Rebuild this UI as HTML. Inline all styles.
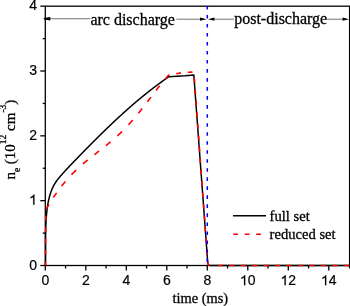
<!DOCTYPE html>
<html><head><meta charset="utf-8"><style>
html,body{margin:0;padding:0;background:#fff;width:350px;height:306px;overflow:hidden}
svg{display:block;will-change:transform}
</style></head><body>
<svg width="350" height="306" viewBox="0 0 350 306">

<!-- frame -->
<g stroke="#000" stroke-width="1.3" fill="none">
<rect x="45.30" y="6.2" width="304.30" height="259.30"/>
<line x1="45.30" y1="265.50" x2="45.30" y2="270.50"/><line x1="65.55" y1="265.50" x2="65.55" y2="268.50"/><line x1="85.80" y1="265.50" x2="85.80" y2="270.50"/><line x1="106.05" y1="265.50" x2="106.05" y2="268.50"/><line x1="126.30" y1="265.50" x2="126.30" y2="270.50"/><line x1="146.55" y1="265.50" x2="146.55" y2="268.50"/><line x1="166.80" y1="265.50" x2="166.80" y2="270.50"/><line x1="187.05" y1="265.50" x2="187.05" y2="268.50"/><line x1="207.30" y1="265.50" x2="207.30" y2="270.50"/><line x1="227.55" y1="265.50" x2="227.55" y2="268.50"/><line x1="247.80" y1="265.50" x2="247.80" y2="270.50"/><line x1="268.05" y1="265.50" x2="268.05" y2="268.50"/><line x1="288.30" y1="265.50" x2="288.30" y2="270.50"/><line x1="308.55" y1="265.50" x2="308.55" y2="268.50"/><line x1="328.80" y1="265.50" x2="328.80" y2="270.50"/><line x1="349.60" y1="265.50" x2="349.60" y2="268.50"/><line x1="40.30" y1="265.50" x2="45.30" y2="265.50"/><line x1="42.70" y1="233.09" x2="45.30" y2="233.09"/><line x1="40.30" y1="200.67" x2="45.30" y2="200.67"/><line x1="42.70" y1="168.25" x2="45.30" y2="168.25"/><line x1="40.30" y1="135.84" x2="45.30" y2="135.84"/><line x1="42.70" y1="103.43" x2="45.30" y2="103.43"/><line x1="40.30" y1="71.01" x2="45.30" y2="71.01"/><line x1="42.70" y1="38.59" x2="45.30" y2="38.59"/><line x1="40.30" y1="6.18" x2="45.30" y2="6.18"/>
</g>
<!-- curves -->
<path d="M45.50,265.50 L45.49,264.53 L45.50,263.97 L45.52,263.42 L45.53,262.86 L45.54,262.29 L45.55,261.73 L45.56,261.15 L45.56,260.58 L45.57,260.00 L45.58,259.42 L45.58,258.84 L45.59,258.25 L45.59,257.66 L45.59,257.07 L45.60,256.48 L45.60,255.88 L45.60,255.28 L45.60,254.68 L45.60,254.07 L45.60,253.46 L45.60,252.85 L45.60,252.24 L45.60,251.63 L45.60,251.01 L45.60,250.39 L45.60,249.77 L45.60,249.15 L45.59,248.53 L45.59,247.90 L45.59,247.27 L45.59,246.64 L45.59,246.01 L45.59,245.38 L45.59,244.74 L45.59,244.11 L45.58,243.47 L45.58,242.83 L45.58,242.20 L45.59,241.56 L45.59,240.91 L45.59,240.27 L45.59,239.63 L45.59,238.99 L45.60,238.34 L45.60,237.70 L45.60,237.05 L45.61,236.40 L45.61,235.76 L45.62,235.11 L45.63,234.46 L45.64,233.81 L45.65,233.17 L45.66,232.52 L45.67,231.87 L45.68,231.22 L45.69,230.57 L45.71,229.92 L45.73,229.28 L45.74,228.63 L45.76,227.98 L45.78,227.34 L45.80,226.69 L45.82,226.04 L45.85,225.40 L45.87,224.75 L45.90,224.11 L45.93,223.47 L45.96,222.83 L45.99,222.19 L46.02,221.55 L46.06,220.91 L46.10,220.27 L46.13,219.63 L46.17,219.00 L46.22,218.37 L46.26,217.73 L46.31,217.10 L46.36,216.48 L46.41,215.85 L46.46,215.22 L46.51,214.60 L46.57,213.98 L46.63,213.36 L46.69,212.74 L46.75,212.13 L46.82,211.51 L46.89,210.90 L46.96,210.29 L47.03,209.69 L47.11,209.08 L47.19,208.48 L47.27,207.88 L47.35,207.29 L47.44,206.69 L47.52,206.10 L47.62,205.51 L47.71,204.93 L47.81,204.35 L47.91,203.77 L48.01,203.19 L48.12,202.62 L48.23,202.05 L48.34,201.49 L48.45,200.92 L48.57,200.36 L48.69,199.81 L48.82,199.26 L48.95,198.71 L49.08,198.17 L49.21,197.63 L49.35,197.09 L49.49,196.56 L49.64,196.03 L49.79,195.50 L49.94,194.98 L50.09,194.47 L50.25,193.96 L50.42,193.45 L50.58,192.94 L50.75,192.44 L50.93,191.95 L51.11,191.46 L51.29,190.97 L51.48,190.48 L51.67,190.00 L51.86,189.53 L52.06,189.05 L52.27,188.58 L52.47,188.12 L52.69,187.66 L52.90,187.20 L53.13,186.74 L53.35,186.29 L53.58,185.85 L53.82,185.40 L54.06,184.96 L54.31,184.52 L54.56,184.09 L54.81,183.66 L55.07,183.23 L55.34,182.81 L55.61,182.38 L55.88,181.97 L56.17,181.55 L56.45,181.14 L56.74,180.73 L57.04,180.32 L57.34,179.92 L57.65,179.52 L57.96,179.12 L58.28,178.72 L58.60,178.32 L58.93,177.92 L59.26,177.53 L59.59,177.13 L59.93,176.73 L60.27,176.34 L60.61,175.94 L60.96,175.54 L61.31,175.14 L61.67,174.74 L62.02,174.33 L62.39,173.93 L62.75,173.52 L63.12,173.11 L63.49,172.70 L63.86,172.29 L64.23,171.88 L64.61,171.46 L64.99,171.05 L65.37,170.63 L65.76,170.21 L66.15,169.79 L66.54,169.37 L66.93,168.95 L67.32,168.53 L67.72,168.10 L68.12,167.68 L68.52,167.25 L68.92,166.82 L69.32,166.39 L69.73,165.97 L70.14,165.54 L70.54,165.11 L70.96,164.67 L71.37,164.24 L71.78,163.81 L72.20,163.38 L72.61,162.94 L73.03,162.51 L73.45,162.07 L73.87,161.64 L74.29,161.20 L74.71,160.76 L75.14,160.33 L75.56,159.89 L75.98,159.45 L76.41,159.01 L76.84,158.57 L77.26,158.14 L77.69,157.70 L78.12,157.26 L78.54,156.82 L78.97,156.38 L79.40,155.94 L79.83,155.50 L80.26,155.06 L80.69,154.63 L81.12,154.19 L81.55,153.75 L81.98,153.31 L82.41,152.87 L82.83,152.44 L83.26,152.00 L83.69,151.56 L84.12,151.12 L84.55,150.68 L84.98,150.25 L85.41,149.81 L85.84,149.37 L86.27,148.94 L86.70,148.50 L87.13,148.06 L87.56,147.63 L87.99,147.19 L88.42,146.76 L88.86,146.32 L89.29,145.89 L89.72,145.45 L90.15,145.02 L90.58,144.58 L91.01,144.15 L91.44,143.71 L91.88,143.28 L92.31,142.84 L92.74,142.41 L93.17,141.98 L93.60,141.54 L94.04,141.11 L94.47,140.68 L94.90,140.24 L95.34,139.81 L95.77,139.38 L96.20,138.95 L96.64,138.51 L97.07,138.08 L97.51,137.65 L97.94,137.22 L98.38,136.79 L98.81,136.36 L99.25,135.93 L99.68,135.50 L100.12,135.07 L100.55,134.64 L100.99,134.21 L101.43,133.78 L101.86,133.35 L102.30,132.92 L102.74,132.50 L103.18,132.07 L103.61,131.64 L104.05,131.21 L104.49,130.79 L104.93,130.36 L105.37,129.93 L105.81,129.51 L106.25,129.08 L106.69,128.65 L107.13,128.23 L107.57,127.80 L108.01,127.38 L108.45,126.96 L108.89,126.53 L109.34,126.11 L109.78,125.68 L110.22,125.26 L110.66,124.84 L111.11,124.42 L111.55,123.99 L112.00,123.57 L112.44,123.15 L112.89,122.73 L113.33,122.31 L113.78,121.89 L114.22,121.47 L114.67,121.05 L115.12,120.63 L115.56,120.21 L116.01,119.79 L116.46,119.38 L116.91,118.96 L117.36,118.54 L117.81,118.12 L118.26,117.71 L118.71,117.29 L119.16,116.88 L119.61,116.46 L120.06,116.04 L120.51,115.63 L120.97,115.22 L121.42,114.80 L121.87,114.39 L122.33,113.98 L122.78,113.56 L123.24,113.15 L123.69,112.74 L124.15,112.33 L124.61,111.92 L125.06,111.51 L125.52,111.10 L125.98,110.69 L126.44,110.28 L126.90,109.87 L127.36,109.46 L127.82,109.05 L128.28,108.65 L128.74,108.24 L129.20,107.83 L129.66,107.43 L130.13,107.02 L130.59,106.62 L131.05,106.21 L131.52,105.81 L131.98,105.40 L132.45,105.00 L132.91,104.60 L133.38,104.19 L133.85,103.79 L134.32,103.39 L134.79,102.99 L135.25,102.59 L135.72,102.19 L136.20,101.79 L136.67,101.39 L137.14,100.99 L137.61,100.60 L138.08,100.20 L138.56,99.80 L139.03,99.41 L139.51,99.01 L139.98,98.61 L140.46,98.22 L140.94,97.83 L141.41,97.43 L141.89,97.04 L142.37,96.65 L142.85,96.25 L143.33,95.86 L143.81,95.47 L144.29,95.08 L144.77,94.69 L145.26,94.30 L145.74,93.91 L146.23,93.53 L146.71,93.14 L147.20,92.75 L147.68,92.36 L148.17,91.98 L148.66,91.59 L149.15,91.21 L149.64,90.82 L150.13,90.44 L150.62,90.06 L151.11,89.68 L151.60,89.29 L152.10,88.91 L152.59,88.53 L153.08,88.15 L153.58,87.77 L154.08,87.39 L154.57,87.02 L155.07,86.64 L155.57,86.26 L156.07,85.88 L156.57,85.51 L157.07,85.13 L157.57,84.76 L158.08,84.39 L158.58,84.01 L159.08,83.64 L159.59,83.27 L160.10,82.90 L160.60,82.53 L161.11,82.16 L161.62,81.79 L162.13,81.42 L162.64,81.05 L163.15,80.68 L163.66,80.32 L164.17,79.95 L164.69,79.58 L165.20,79.22 L165.72,78.86 L166.24,78.49 L166.75,78.13 L167.27,77.77 L167.79,77.41 L168.31,77.05 L168.83,76.69 L185.00,75.80 L193.80,74.90 L207.80,263.30 Q208.3,265.5 210,265.5 L349.3,265.5" fill="none" stroke="#000" stroke-width="1.5" stroke-linejoin="round"/>
<path d="M45.50,265.50 L45.50,264.79 L45.51,263.95 L45.51,262.99 L45.51,261.91 L45.51,261.62 M45.53,254.86 L45.54,253.88 L45.54,252.38 L45.55,250.88 L45.55,250.16 M45.58,243.41 L45.59,242.36 L45.59,241.14 L45.60,240.00 L45.61,238.92 L45.61,238.71 M45.67,231.95 L45.67,231.83 L45.68,230.89 L45.69,229.97 L45.70,229.07 L45.72,228.19 L45.73,227.34 L45.73,227.25 M45.82,220.50 L45.83,220.12 L45.83,219.55 L45.84,219.00 L45.85,218.49 L45.85,217.99 L45.86,217.52 L45.87,217.07 L45.88,216.64 L45.88,216.22 L45.89,215.82 L45.89,215.80 M46.53,209.04 L46.54,208.99 L46.60,208.80 L46.66,208.61 L46.73,208.42 L46.80,208.24 L46.87,208.06 L46.95,207.89 L47.03,207.71 L47.12,207.54 L47.20,207.37 L47.29,207.21 L47.39,207.04 L47.48,206.87 L47.58,206.70 L47.68,206.53 L47.78,206.36 L47.88,206.19 L47.98,206.02 L48.09,205.85 L48.19,205.67 L48.30,205.49 L48.40,205.30 L48.51,205.11 L48.62,204.92 L48.73,204.72 L48.84,204.53 L48.95,204.34 M53.26,197.59 L53.42,197.37 L53.65,197.03 L53.90,196.67 L54.17,196.29 L54.45,195.89 L54.74,195.48 L55.03,195.05 L55.34,194.61 L55.65,194.16 L55.98,193.71 L56.30,193.25 L56.55,192.89 M61.59,186.13 L61.60,186.12 L61.90,185.74 L62.20,185.37 L62.50,184.99 L62.80,184.62 L63.10,184.25 L63.40,183.88 L63.70,183.51 L64.00,183.15 L64.30,182.79 L64.60,182.43 L64.90,182.07 L65.20,181.71 L65.44,181.43 M71.53,174.68 L71.80,174.39 L72.10,174.08 L72.40,173.77 L72.70,173.46 L73.00,173.16 L73.30,172.86 L73.60,172.55 L73.90,172.25 L74.20,171.96 L74.50,171.66 L74.80,171.37 L75.10,171.07 L75.40,170.78 L75.70,170.49 L76.00,170.20 L76.18,170.03 M82.93,163.92 L83.20,163.69 L83.50,163.43 L83.80,163.17 L84.10,162.92 L84.40,162.67 L84.70,162.41 L85.00,162.16 L85.30,161.91 L85.60,161.66 L85.90,161.42 L86.20,161.17 L86.50,160.92 L86.80,160.68 L87.10,160.43 L87.40,160.19 L87.63,160.00 M94.39,154.67 L94.60,154.50 L94.90,154.27 L95.20,154.03 L95.50,153.80 L95.80,153.57 L96.10,153.33 L96.40,153.10 L96.70,152.87 L97.00,152.64 L97.30,152.41 L97.60,152.18 L97.90,151.95 L98.20,151.72 L98.50,151.48 L98.80,151.25 L99.09,151.03 M105.84,145.74 L106.00,145.61 L106.30,145.37 L106.60,145.13 L106.90,144.89 L107.20,144.64 L107.50,144.40 L107.80,144.15 L108.10,143.91 L108.40,143.66 L108.70,143.41 L109.00,143.17 L109.30,142.92 L109.60,142.67 L109.90,142.42 L110.20,142.17 L110.50,141.92 L110.54,141.89 M117.30,135.97 L117.40,135.87 L117.70,135.60 L118.00,135.32 L118.30,135.04 L118.60,134.76 L118.90,134.48 L119.20,134.20 L119.50,133.91 L119.80,133.63 L120.10,133.34 L120.40,133.05 L120.70,132.77 L121.00,132.48 L121.30,132.18 L121.60,131.89 L121.90,131.60 L122.00,131.50 M128.52,124.76 L128.80,124.46 L129.10,124.13 L129.40,123.80 L129.70,123.47 L130.00,123.14 L130.30,122.81 L130.60,122.48 L130.90,122.14 L131.20,121.80 L131.50,121.47 L131.80,121.13 L132.10,120.79 L132.40,120.44 L132.70,120.10 L132.74,120.06 M138.42,113.30 L138.70,112.95 L139.00,112.58 L139.30,112.21 L139.60,111.84 L139.90,111.46 L140.20,111.09 L140.50,110.71 L140.80,110.33 L141.10,109.96 L141.40,109.58 L141.70,109.20 L142.00,108.82 L142.17,108.60 M147.38,101.85 L147.40,101.82 L147.70,101.43 L148.00,101.04 L148.30,100.64 L148.60,100.25 L148.90,99.85 L149.20,99.46 L149.50,99.06 L149.80,98.67 L150.10,98.27 L150.40,97.87 L150.70,97.48 L150.95,97.15 M156.06,90.39 L156.10,90.34 L156.40,89.95 L156.70,89.56 L157.00,89.17 L157.30,88.78 L157.60,88.39 L157.90,88.00 L158.20,87.61 L158.50,87.22 L158.80,86.83 L159.10,86.45 L159.40,86.06 L159.69,85.69 M165.29,78.94 L165.44,78.76 L165.74,78.42 L166.02,78.09 L166.29,77.77 L166.55,77.48 L166.79,77.20 L167.00,76.95 L167.20,76.72 L167.38,76.52 L167.53,76.34 L167.67,76.18 L167.80,76.04 L167.91,75.92 L168.00,75.82 L168.09,75.73 L168.16,75.65 L168.22,75.58 L168.27,75.53 L168.32,75.48 L168.36,75.45 L168.40,75.41 L168.43,75.39 L168.46,75.36 L168.48,75.34 L168.51,75.31 L168.54,75.28 L168.57,75.26 L168.60,75.22 L168.69,75.18 L168.80,75.15 L168.92,75.12 L169.05,75.09 L169.19,75.05 L169.34,75.02 L169.50,74.98 L169.57,74.96 M176.32,73.71 L176.40,73.70 L176.62,73.66 L176.84,73.62 L177.06,73.58 L177.28,73.54 L177.49,73.50 L177.71,73.46 L177.92,73.42 L178.14,73.38 L178.36,73.34 L178.57,73.29 L178.80,73.25 L179.02,73.21 L179.25,73.17 L179.48,73.13 L179.72,73.09 L179.96,73.05 L180.21,73.01 L180.47,72.97 L180.73,72.94 L181.00,72.90 L181.02,72.90 M187.78,72.28 L188.04,72.26 L188.37,72.25 L188.71,72.23 L189.05,72.22 L189.39,72.20 L189.74,72.19 L190.08,72.18 L190.42,72.17 L190.75,72.16 L191.07,72.15 L191.39,72.15 L191.69,72.14 L191.98,72.13 L192.25,72.13 L192.48,72.12 M194.34,78.03 L194.37,78.50 L194.41,78.99 L194.44,79.49 L194.48,79.99 L194.52,80.49 L194.55,80.99 L194.59,81.48 L194.63,81.98 L194.66,82.48 L194.68,82.73 M195.17,89.49 L195.20,89.95 L195.24,90.45 L195.28,90.95 L195.31,91.45 L195.35,91.95 L195.39,92.44 L195.42,92.94 L195.46,93.44 L195.49,93.94 L195.51,94.19 M196.00,100.94 L196.04,101.41 L196.07,101.91 L196.11,102.41 L196.15,102.90 L196.18,103.40 L196.22,103.90 L196.25,104.40 L196.29,104.90 L196.33,105.39 L196.34,105.64 M196.84,112.40 L196.87,112.87 L196.91,113.36 L196.94,113.86 L196.98,114.36 L197.01,114.86 L197.05,115.36 L197.09,115.86 L197.12,116.35 L197.16,116.85 L197.18,117.10 M197.67,123.85 L197.70,124.32 L197.74,124.82 L197.77,125.32 L197.81,125.82 L197.85,126.32 L197.88,126.81 L197.92,127.31 L197.96,127.81 L197.99,128.31 L198.01,128.55 M198.50,135.31 L198.53,135.78 L198.57,136.28 L198.61,136.78 L198.64,137.27 L198.68,137.77 L198.72,138.27 L198.75,138.77 L198.79,139.27 L198.82,139.77 L198.84,140.01 M199.33,146.76 L199.37,147.24 L199.40,147.74 L199.44,148.23 L199.48,148.73 L199.51,149.23 L199.55,149.73 L199.58,150.23 L199.62,150.72 L199.66,151.22 L199.67,151.46 M200.16,158.22 L200.20,158.69 L200.24,159.19 L200.27,159.69 L200.31,160.19 L200.34,160.69 L200.38,161.18 L200.42,161.68 L200.45,162.18 L200.49,162.68 L200.51,162.92 M201.00,169.67 L201.03,170.15 L201.07,170.65 L201.10,171.15 L201.14,171.65 L201.18,172.14 L201.21,172.64 L201.25,173.14 L201.29,173.64 L201.32,174.14 L201.34,174.37 M201.83,181.13 L201.86,181.61 L201.90,182.11 L201.94,182.60 L201.97,183.10 L202.01,183.60 L202.05,184.10 L202.08,184.60 L202.12,185.09 L202.15,185.59 L202.17,185.83 M202.66,192.58 L202.70,193.06 L202.73,193.56 L202.77,194.06 L202.81,194.56 L202.84,195.06 L202.88,195.56 L202.91,196.05 L202.95,196.55 L202.99,197.05 L203.00,197.28 M203.49,204.04 L203.53,204.52 L203.57,205.02 L203.60,205.52 L203.64,206.02 L203.67,206.51 L203.71,207.01 L203.75,207.51 L203.78,208.01 L203.82,208.51 L203.84,208.74 M204.33,215.49 L204.36,215.98 L204.40,216.48 L204.43,216.97 L204.47,217.47 L204.51,217.97 L204.54,218.47 L204.58,218.97 L204.62,219.47 L204.65,219.96 L204.67,220.19 M205.16,226.95 L205.19,227.44 L205.23,227.93 L205.27,228.43 L205.30,228.93 L205.34,229.43 L205.38,229.93 L205.41,230.42 L205.45,230.92 L205.48,231.42 L205.50,231.65 M205.99,238.40 L206.03,238.89 L206.06,239.39 L206.10,239.89 L206.14,240.39 L206.17,240.88 L206.21,241.38 L206.24,241.88 L206.28,242.38 L206.32,242.88 L206.33,243.10 M206.82,249.86 L206.86,250.35 L206.90,250.85 L206.93,251.35 L206.97,251.84 L207.00,252.34 L207.04,252.84 L207.08,253.34 L207.11,253.84 L207.15,254.33 L207.16,254.56 M207.66,261.31 L207.69,261.81 L207.73,262.30 L207.76,262.80 L207.80,263.30 L207.91,263.72 L208.05,264.09 L208.21,264.42 L208.39,264.71 L208.60,264.95 L208.83,265.15 L209.09,265.30 L209.37,265.41 L209.66,265.48 M218.00,265.5 H222.70 M229.46,265.5 H234.16 M240.91,265.5 H245.61 M252.37,265.5 H257.07 M263.82,265.5 H268.52 M275.28,265.5 H279.98 M286.73,265.5 H291.43 M298.19,265.5 H302.88 M309.64,265.5 H314.34 M321.09,265.5 H325.79 M332.55,265.5 H337.25 M344.00,265.5 H348.70" fill="none" stroke="#f00" stroke-width="1.6" stroke-linejoin="round"/>
<!-- blue dashed vertical -->
<path d="M207.3,5.90 V9.50 M207.3,14.92 V18.52 M207.3,23.94 V27.54 M207.3,32.96 V36.56 M207.3,41.98 V45.58 M207.3,51.00 V54.60 M207.3,60.02 V63.62 M207.3,69.04 V72.64 M207.3,78.06 V81.66 M207.3,87.08 V90.68 M207.3,96.10 V99.70 M207.3,105.12 V108.72 M207.3,114.14 V117.74 M207.3,123.16 V126.76 M207.3,132.18 V135.78 M207.3,141.20 V144.80 M207.3,150.22 V153.82 M207.3,159.24 V162.84 M207.3,168.26 V171.86 M207.3,177.28 V180.88 M207.3,186.30 V189.90 M207.3,195.32 V198.92 M207.3,204.34 V207.94 M207.3,213.36 V216.96 M207.3,222.38 V225.98 M207.3,231.40 V235.00 M207.3,240.42 V244.02 M207.3,249.44 V253.04 M207.3,258.46 V262.06" stroke="#0000ff" stroke-width="1.5"/>
<!-- arrows -->
<g stroke="#000" stroke-width="1" stroke-opacity="0.55">
<line x1="50" y1="18.75" x2="90.5" y2="18.75"/>
<line x1="176.3" y1="19.2" x2="200.5" y2="19.2"/>
<line x1="214" y1="19.2" x2="234" y2="19.2"/>
<line x1="327" y1="19.2" x2="342.5" y2="19.2"/>
</g>
<g fill="#000">
<polygon points="43.8,18.0 50.3,17.0 50.3,20.6 43.8,19.5"/>
<polygon points="206.6,19.2 200,17.6 200,20.8"/>
<polygon points="208,19.2 214.4,17.6 214.4,20.8"/>
<polygon points="349,19.2 342.5,17.6 342.5,20.8"/>
</g>
<!-- tick labels -->
<g font-family="Liberation Sans" font-size="14" fill="#000" stroke="#000" stroke-width="0.2">
<text x="41.41" y="285.20">0</text><text x="81.91" y="285.20">2</text><text x="122.41" y="285.20">4</text><text x="162.91" y="285.20">6</text><text x="203.41" y="285.20">8</text><path transform="translate(240.02,285.20) scale(0.006836,-0.006836)" d="M763,0 L583,0 L583,1120 Q518,1060 412,1000 Q306,940 210,905 L210,1125 Q373,1190 486,1286 Q599,1380 646,1472 L763,1472 Z" vector-effect="non-scaling-stroke"/><text x="247.80" y="285.20">0</text><path transform="translate(280.52,285.20) scale(0.006836,-0.006836)" d="M763,0 L583,0 L583,1120 Q518,1060 412,1000 Q306,940 210,905 L210,1125 Q373,1190 486,1286 Q599,1380 646,1472 L763,1472 Z" vector-effect="non-scaling-stroke"/><text x="288.30" y="285.20">2</text><path transform="translate(321.02,285.20) scale(0.006836,-0.006836)" d="M763,0 L583,0 L583,1120 Q518,1060 412,1000 Q306,940 210,905 L210,1125 Q373,1190 486,1286 Q599,1380 646,1472 L763,1472 Z" vector-effect="non-scaling-stroke"/><text x="328.80" y="285.20">4</text>
<text x="29.22" y="269.50">0</text><path transform="translate(29.22,204.67) scale(0.006836,-0.006836)" d="M763,0 L583,0 L583,1120 Q518,1060 412,1000 Q306,940 210,905 L210,1125 Q373,1190 486,1286 Q599,1380 646,1472 L763,1472 Z" vector-effect="non-scaling-stroke"/><text x="29.22" y="139.84">2</text><text x="29.22" y="75.01">3</text><text x="29.22" y="10.18">4</text>
</g>
<!-- annotations -->
<g font-family="Liberation Serif" fill="#000" stroke="#000" stroke-width="0.3">
<text x="90.4" y="24.6" font-size="16">arc discharge</text>
<text x="234.2" y="24.4" font-size="16">post-discharge</text>
<text x="172.5" y="302.9" font-size="14.4">time (ms)</text>
<text x="269.6" y="220.5" font-size="14.6">full set</text>
<text x="269.6" y="238.8" font-size="14.6">reduced set</text>
<text transform="translate(15.0,179.6) rotate(-90)" font-size="15">n<tspan font-size="9.5" dy="4.6">e</tspan><tspan dy="-4.6"> (10</tspan><tspan font-size="9.5" dy="-8.7">12</tspan><tspan dy="8.7"> cm</tspan><tspan font-size="9.5" dy="-8.7">-3</tspan><tspan dy="8.7">)</tspan></text>
</g>
<!-- legend lines -->
<line x1="233" y1="215.7" x2="266" y2="215.7" stroke="#000" stroke-width="1.6"/>
<path d="M233.3,234.3 H238 M244.75,234.3 H249.45 M256.2,234.3 H260.9" stroke="#f00" stroke-width="1.6"/>
</svg>
</body></html>
